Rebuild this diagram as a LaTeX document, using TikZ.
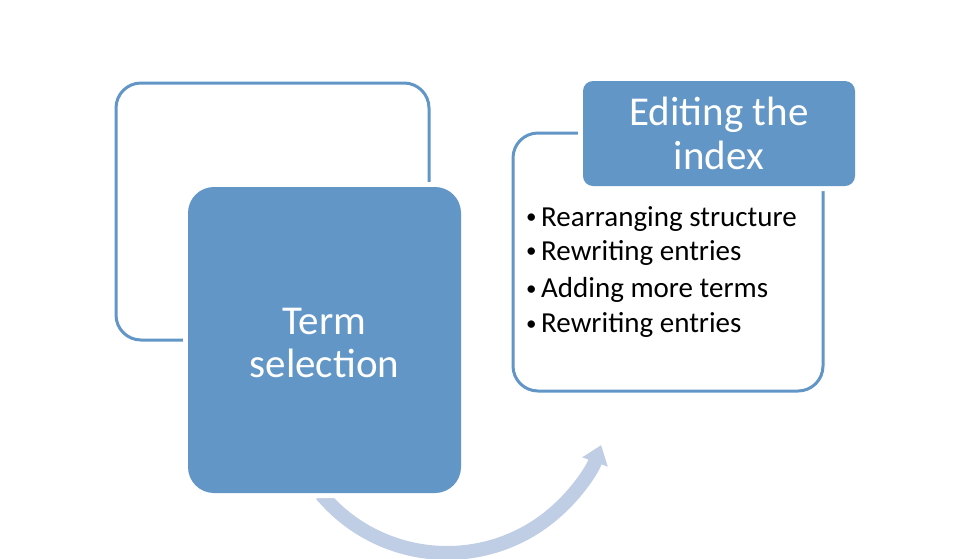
\documentclass[tikz,border=0pt]{standalone}
\usepackage{fontspec}
\setmainfont{Carlito}
\usetikzlibrary{arrows.meta}
\definecolor{boxblue}{RGB}{97,150,199}
\definecolor{arrowblue}{RGB}{191,206,228}
\newcommand{\mybul}{\makebox[16pt][l]{\hspace{1pt}\raisebox{2.5pt}{\fontsize{21}{21}\selectfont •}}}
\begin{document}
\begin{tikzpicture}[x=1pt,y=-1pt,
  outlinebox/.style={draw=boxblue, line width=3pt, rounded corners=25pt, inner sep=0pt},
  filledbox/.style={fill=boxblue, text=white, inner sep=0pt, align=center,
    preaction={draw=white, line width=10pt}},
  bullettext/.style={anchor=base west, inner sep=0pt, text=black,
    font=\fontsize{29}{33}\selectfont},
  flowarrow/.style={draw=arrowblue, line width=14pt, -{Triangle[length=18pt,width=26pt]}}
]
\useasboundingbox (0,0) rectangle (975,558);
% back outline box (left)
\node[outlinebox, minimum width=313pt, minimum height=257pt] (back) at (272.5,211.5) {};
% right outline box
\node[outlinebox, minimum width=310pt, minimum height=258pt] (edit) at (668,262) {};
% curved arrow (behind the filled box)
\coordinate (as) at (321.4,494.4);
\draw[flowarrow] (as) arc[start angle=140, end angle=20, radius=164] coordinate (ae);
% filled box: term selection
\node[filledbox, rounded corners=26pt, minimum width=273pt, minimum height=306pt,
  font=\fontsize{41}{43}\selectfont] (term) at (324.5,340) {};
\node[text=white, align=center, inner sep=0pt, font=\fontsize{41}{43}\selectfont]
  (termtext) at (324.5,343) {Term\\selection};
% header box
\node[filledbox, rounded corners=10pt, minimum width=272pt, minimum height=105pt,
  font=\fontsize{41}{44}\selectfont] (head) at (719,133.5) {Editing the\\index};
% bullets
\node[bullettext] (b1) at (525,226) {\mybul Rearranging structure};
\node[bullettext] (b2) at (525,260) {\mybul Rewriting entries};
\node[bullettext] (b3) at (525,297.5) {\mybul Adding more terms};
\node[bullettext] (b4) at (525,332.5) {\mybul Rewriting entries};
\end{tikzpicture}
\end{document}
